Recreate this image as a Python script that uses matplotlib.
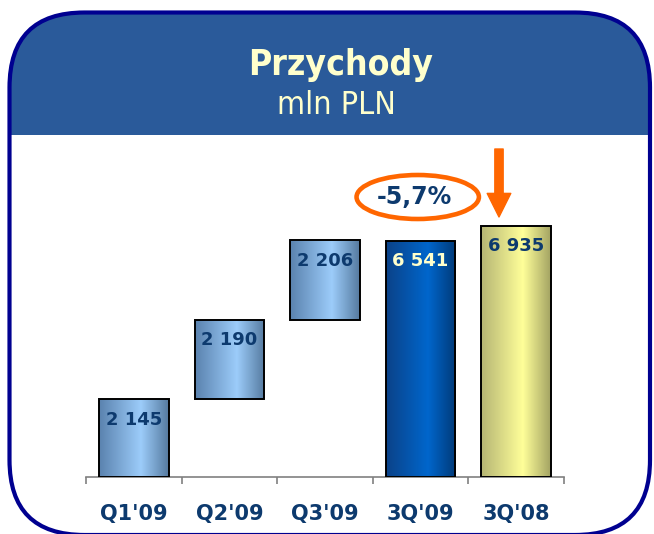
import numpy as np
import matplotlib
matplotlib.use("Agg")
import matplotlib.pyplot as plt
from matplotlib.patches import FancyBboxPatch, Rectangle, Ellipse
from matplotlib.colors import LinearSegmentedColormap

# ---- data ----
categories = ["Q1'09", "Q2'09", "Q3'09", "3Q'09", "3Q'08"]
values = [2145, 2190, 2206, 6541, 6935]
is_step = [True, True, True, False, False]
change_label = "-5,7%"
title = "Przychody"
subtitle = "mln PLN"

# ---- styles ----
navy_txt = "#0D3A6E"
cream = "#FFFFCC"
orange = "#FF6600"
grad_light = ["#5A82AE", "#9CCCFA", "#557A9F"]
grad_dark = ["#0B4288", "#0066CC", "#003A78"]
grad_yellow = ["#B5B574", "#FFFF99", "#A3A363"]
bar_grads = [grad_light, grad_light, grad_light, grad_dark, grad_yellow]
label_colors = [navy_txt, navy_txt, navy_txt, cream, navy_txt]

W, H = 654, 534
fig = plt.figure(figsize=(W / 100, H / 100), dpi=100)

# background frame axes (pixel coordinates)
bg = fig.add_axes([0, 0, 1, 1], zorder=0)
bg.set_xlim(0, W)
bg.set_ylim(H, 0)
bg.axis("off")
frame_fill = FancyBboxPatch((9.5, 12.5), 640.5, 522.5,
                            boxstyle="round,pad=0,rounding_size=75",
                            facecolor="white", edgecolor="none")
bg.add_patch(frame_fill)
header = Rectangle((0, 0), W, 135, facecolor="#2A5A9A", edgecolor="none")
bg.add_patch(header)
header.set_clip_path(frame_fill)
frame_edge = FancyBboxPatch((9.5, 12.5), 640.5, 522.5,
                            boxstyle="round,pad=0,rounding_size=75",
                            facecolor="none", edgecolor="#000090", linewidth=3)
bg.add_patch(frame_edge)

bg.text(341, 65, title, ha="center", va="center", color=cream,
        fontsize=25.5, fontweight="bold", family="DejaVu Sans",
        fontstretch="condensed")
bg.text(336, 106, subtitle, ha="center", va="center", color=cream,
        fontsize=23, family="DejaVu Sans", fontstretch="condensed")

# main axes
px_per_unit = 236.5 / 6541.0
ax_top_px, base_px = 140, 477
ax = fig.add_axes([86 / W, (H - base_px) / H, (564 - 86) / W,
                   (base_px - ax_top_px) / H], zorder=1)
ax.patch.set_alpha(0)
x = np.arange(len(categories))
bottoms = []
run = 0
for v, s in zip(values, is_step):
    if s:
        bottoms.append(run)
        run += v
    else:
        bottoms.append(0)
bars = ax.bar(x, values, bottom=bottoms, width=0.73, facecolor="none",
              edgecolor="black", linewidth=1.4, zorder=3)

for b, g in zip(bars, bar_grads):
    cmap = LinearSegmentedColormap.from_list("g", [(0, g[0]), (0.6, g[1]), (1, g[2])])
    grad = np.linspace(0, 1, 256).reshape(1, -1)
    x0, y0 = b.get_x(), b.get_y()
    im = ax.imshow(grad, cmap=cmap, aspect="auto", interpolation="bilinear",
                   extent=(x0, x0 + b.get_width(), y0, y0 + b.get_height()),
                   zorder=2)
    im.set_clip_path(b)

for b, v, c in zip(bars, values, label_colors):
    lbl = f"{v:,}".replace(",", " ")
    ax.annotate(lbl, (b.get_x() + b.get_width() / 2, b.get_y() + b.get_height()),
                xytext=(0, -14.5), textcoords="offset points", ha="center",
                va="center", color=c, fontsize=13, fontweight="bold", zorder=4)

ax.set_xlim(-0.5, len(categories) - 0.5)
ax.set_ylim(0, (base_px - ax_top_px) / px_per_unit)
for s in ["top", "right", "left"]:
    ax.spines[s].set_visible(False)
ax.spines["bottom"].set_color("#808080")
ax.spines["bottom"].set_linewidth(1.2)
ax.set_yticks([])
ax.set_xticks(x)
ax.set_xticklabels(categories, fontsize=15, fontweight="bold", color=navy_txt)
ax.tick_params(axis="x", which="major", length=0, pad=19.5)
ax.set_xticks(np.arange(len(categories) + 1) - 0.5, minor=True)
ax.tick_params(axis="x", which="minor", length=5, width=1.2, color="#808080")

# change annotation
ex = 2.97
ey = (base_px - 197) / px_per_unit
ax.add_patch(Ellipse((ex, ey), 1.28, 44 / px_per_unit, facecolor="none",
                     edgecolor=orange, linewidth=3.3, clip_on=False, zorder=5))
ax.text(ex - 0.03, ey, change_label, ha="center", va="center", color=navy_txt,
        fontsize=17, fontweight="bold", zorder=6)
arrow_x = 3.82
ax.annotate("", xy=(arrow_x, (base_px - 217) / px_per_unit),
            xytext=(arrow_x, (base_px - 149) / px_per_unit),
            arrowprops=dict(facecolor=orange, edgecolor=orange, width=6,
                            headwidth=17, headlength=17, shrink=0),
            annotation_clip=False, zorder=5)

fig.savefig("out.png", dpi=100)
